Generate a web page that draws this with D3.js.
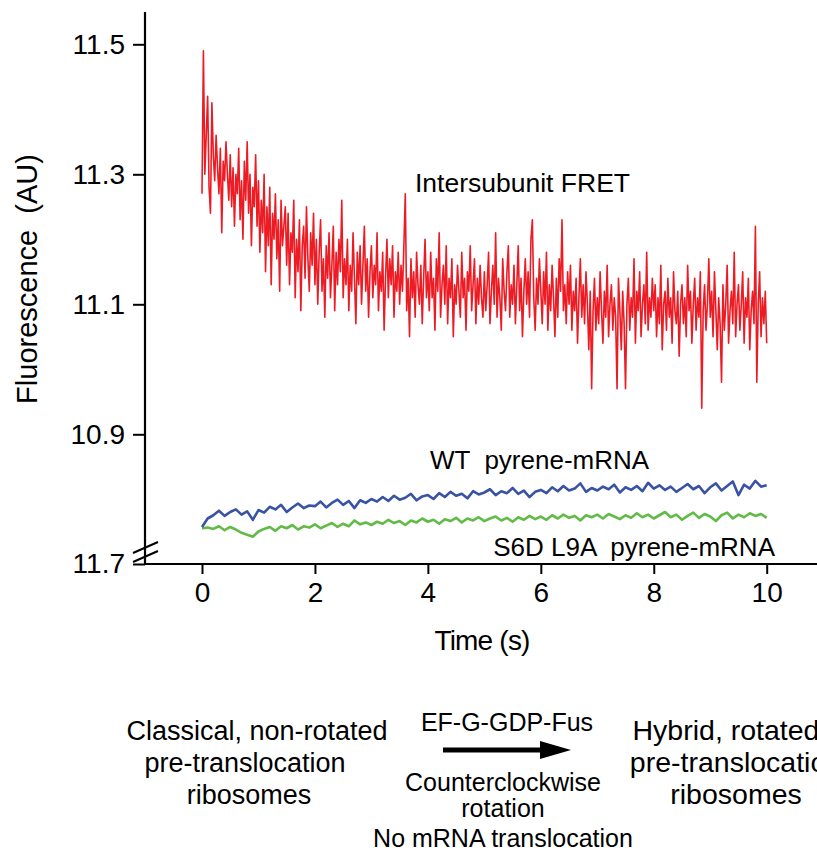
<!DOCTYPE html>
<html><head><meta charset="utf-8">
<script src="https://cdn.jsdelivr.net/npm/d3@7"></script>
<style>body{margin:0;background:#fff} text{font-family:"Liberation Sans",Arial,Helvetica,sans-serif;fill:#000}</style>
</head><body><svg id="c" width="817" height="852"></svg>
<script>
const xTicks=[0,2,4,6,8,10];
const yTicks=[10.9,11.1,11.3,11.5];
const yBreakTick=[11.7];
const redDt=0.025;
const redValues=[
11.27,11.49,11.30,11.36,11.42,11.28,11.24,11.41,11.33,11.29,11.36,11.31,11.27,11.34,11.21,11.32,11.29,11.35,11.30,11.26,
11.33,11.25,11.31,11.22,11.30,11.27,11.34,11.23,11.29,11.20,11.32,11.26,11.35,11.24,11.30,11.19,11.28,11.25,11.33,11.22,
11.29,11.18,11.26,11.21,11.30,11.15,11.25,11.19,11.28,11.13,11.24,11.20,11.27,11.17,11.23,11.12,11.26,11.19,11.22,11.25,
11.16,11.24,11.13,11.21,11.18,11.26,11.11,11.20,11.15,11.23,11.09,11.19,11.22,11.14,11.25,11.17,11.12,11.21,11.16,11.24,
11.13,11.20,11.10,11.18,11.23,11.12,11.17,11.08,11.19,11.14,11.21,11.11,11.16,11.22,11.09,11.18,11.13,11.20,11.15,11.26,
11.11,11.17,11.13,11.20,11.09,11.16,11.12,11.21,11.14,11.07,11.18,11.13,11.19,11.10,11.16,11.22,11.12,11.17,11.08,11.15,
11.19,11.11,11.16,11.13,11.21,11.09,11.15,11.12,11.18,11.06,11.14,11.20,11.11,11.17,11.13,11.19,11.08,11.15,11.12,11.18,
11.10,11.16,11.12,11.19,11.27,11.09,11.14,11.05,11.17,11.11,11.15,11.08,11.18,11.13,11.10,11.16,11.07,11.14,11.20,11.11,
11.15,11.09,11.18,11.11,11.14,11.06,11.17,11.12,11.21,11.08,11.13,11.16,11.10,11.19,11.07,11.14,11.11,11.17,11.05,11.13,
11.10,11.16,11.12,11.08,11.18,11.11,11.14,11.06,11.15,11.12,11.19,11.09,11.13,11.17,11.07,11.14,11.10,11.16,11.11,11.08,
11.15,11.09,11.13,11.18,11.07,11.12,11.16,11.10,11.21,11.08,11.14,11.11,11.06,11.17,11.12,11.09,11.15,11.19,11.08,11.13,
11.10,11.16,11.07,11.13,11.19,11.09,11.14,11.05,11.12,11.17,11.10,11.15,11.08,11.20,11.23,11.11,11.06,11.14,11.10,11.17,
11.12,11.07,11.15,11.10,11.18,11.06,11.13,11.09,11.16,11.11,11.05,11.14,11.08,11.17,11.12,11.23,11.09,11.13,11.07,11.15,
11.10,11.16,11.06,11.12,11.09,11.14,11.04,11.11,11.17,11.08,11.13,11.07,11.15,11.10,11.03,11.12,10.97,11.09,11.14,11.06,
11.11,11.07,11.15,11.09,11.04,11.12,11.08,11.16,11.05,11.10,11.13,11.06,11.11,11.08,10.97,11.14,11.09,11.03,11.12,11.07,
10.97,11.10,11.14,11.06,11.11,11.08,11.17,11.04,11.12,11.09,11.15,11.05,11.10,11.13,11.07,11.18,11.06,11.11,11.08,11.14,
11.09,11.13,11.05,11.11,11.07,11.16,11.03,11.10,11.12,11.06,11.14,11.08,11.11,11.04,11.15,11.09,11.07,11.12,11.02,11.10,
11.13,11.07,11.11,11.05,11.16,11.09,11.12,11.04,11.10,11.14,11.06,11.11,11.08,11.15,10.94,11.09,11.13,11.06,11.10,11.17,
11.08,11.12,11.05,11.15,11.09,11.03,11.11,11.07,10.98,11.13,11.06,11.10,11.16,11.04,11.09,11.12,11.07,11.18,11.05,11.10,
11.13,11.06,11.10,11.15,11.04,11.11,11.08,11.14,11.03,11.09,11.12,11.07,11.22,10.98,11.10,11.15,11.05,11.11,11.07,11.12,
11.04];
const pyreneDt=0.1;
const wtValues=[
11.757,11.770,11.775,11.782,11.774,11.780,11.784,11.776,11.781,11.768,
11.783,11.779,11.788,11.784,11.791,11.780,11.787,11.793,11.786,11.790,
11.789,11.796,11.787,11.794,11.799,11.791,11.797,11.786,11.798,11.794,
11.800,11.796,11.803,11.797,11.805,11.799,11.802,11.808,11.798,11.804,
11.806,11.800,11.809,11.803,11.811,11.805,11.808,11.801,11.812,11.807,
11.810,11.815,11.806,11.812,11.809,11.817,11.808,11.813,11.803,11.811,
11.814,11.809,11.818,11.812,11.820,11.813,11.816,11.824,11.811,11.817,
11.813,11.819,11.815,11.822,11.810,11.818,11.814,11.820,11.812,11.825,
11.816,11.821,11.814,11.819,11.811,11.817,11.823,11.815,11.820,11.809,
11.818,11.824,11.813,11.820,11.827,11.806,11.822,11.816,11.828,11.819,
11.821];
const s6dValues=[
11.755,11.756,11.754,11.758,11.752,11.757,11.753,11.748,11.745,11.742,
11.750,11.754,11.757,11.751,11.758,11.755,11.760,11.753,11.758,11.756,
11.761,11.755,11.759,11.763,11.757,11.762,11.758,11.767,11.761,11.764,
11.760,11.765,11.762,11.768,11.763,11.766,11.760,11.767,11.764,11.770,
11.765,11.768,11.762,11.769,11.766,11.771,11.764,11.770,11.767,11.772,
11.766,11.770,11.773,11.767,11.771,11.765,11.772,11.768,11.774,11.769,
11.773,11.768,11.775,11.770,11.776,11.771,11.774,11.767,11.775,11.772,
11.776,11.770,11.777,11.773,11.769,11.775,11.771,11.778,11.772,11.776,
11.770,11.775,11.780,11.772,11.776,11.768,11.774,11.779,11.771,11.777,
11.773,11.766,11.775,11.779,11.770,11.776,11.772,11.778,11.774,11.777,
11.771];
const seriesLabels=["Intersubunit FRET","WT  pyrene-mRNA","S6D L9A  pyrene-mRNA"];
const leftState=["Classical, non-rotated","pre-translocation","ribosomes"];
const rightState=["Hybrid, rotated","pre-translocation","ribosomes"];
const arrowTop=["EF-G-GDP-Fus"];
const arrowBottom=["Counterclockwise","rotation","No mRNA translocation"];

const svg=d3.select("#c");
const x=d3.scaleLinear().domain([0,10]).range([202,766.7]);
const yUp=d3.scaleLinear().domain([10.9,11.5]).range([434.3,44.3]);
const yLow=d3.scaleLinear().domain([11.7,11.9]).range([564,434]);
const axisY=564, axisX=145;
const FF='"Liberation Sans",Arial,sans-serif';

// series
const redLine=d3.line().x((d,i)=>x(i*redDt)).y(d=>yUp(d));
svg.append("path").attr("d",redLine(redValues)).attr("fill","none").attr("stroke","#ed1c24").attr("stroke-width",1.6).attr("stroke-linejoin","round");
const lowLine=d3.line().x((d,i)=>x(i*pyreneDt)).y(d=>yLow(d));
svg.append("path").attr("d",lowLine(s6dValues)).attr("fill","none").attr("stroke","#62bb46").attr("stroke-width",2.6).attr("stroke-linejoin","round");
svg.append("path").attr("d",lowLine(wtValues)).attr("fill","none").attr("stroke","#3953a4").attr("stroke-width",2.6).attr("stroke-linejoin","round");

// axes
const fs=28;
function styleAxis(g){
  g.select(".domain").remove();
  g.selectAll("line").attr("stroke","#000").attr("stroke-width",2);
  g.selectAll("text").attr("font-size",fs).style("font-family",FF);
}
styleAxis(svg.append("g").attr("transform",`translate(0,${axisY})`)
  .call(d3.axisBottom(x).tickValues(xTicks).tickSize(10).tickPadding(8).tickFormat(d3.format("d"))));
styleAxis(svg.append("g").attr("transform",`translate(${axisX},0)`)
  .call(d3.axisLeft(yUp).tickValues(yTicks).tickSize(12).tickPadding(8).tickFormat(d3.format(".1f"))));
styleAxis(svg.append("g").attr("transform",`translate(${axisX},0)`)
  .call(d3.axisLeft(yLow).tickValues(yBreakTick).tickSize(12).tickPadding(8).tickFormat(d3.format(".1f"))));

svg.append("line").attr("x1",axisX).attr("x2",817).attr("y1",axisY).attr("y2",axisY).attr("stroke","#000").attr("stroke-width",2.2);
svg.append("line").attr("x1",axisX).attr("x2",axisX).attr("y1",12).attr("y2",axisY+1).attr("stroke","#000").attr("stroke-width",2.2);
// break marks
[0,9].forEach(o=>{
  svg.append("line").attr("x1",133).attr("y1",553+o).attr("x2",158).attr("y2",542+o).attr("stroke","#000").attr("stroke-width",2);
});

// axis titles
svg.append("text").attr("x",482).attr("y",650).attr("text-anchor","middle").attr("font-size",28).attr("letter-spacing","-0.8").text("Time (s)");
svg.append("text").attr("transform","translate(37,279) rotate(-90)").attr("text-anchor","middle").attr("font-size",29).style("white-space","pre").text("Fluorescence  (AU)");

// series labels
svg.append("text").attr("x",415).attr("y",192).attr("font-size",26.5).text(seriesLabels[0]);
svg.append("text").attr("x",430).attr("y",469).attr("font-size",26).style("white-space","pre").text(seriesLabels[1]);
svg.append("text").attr("x",775).attr("y",556).attr("text-anchor","end").attr("font-size",26).style("white-space","pre").text(seriesLabels[2]);

// scheme
const lc=[257,245,249], rc=[726,736,736], sb=[740,772,804];
leftState.forEach((t,i)=>svg.append("text").attr("x",lc[i]).attr("y",sb[i]).attr("text-anchor","middle").attr("font-size",27).text(t));
rightState.forEach((t,i)=>svg.append("text").attr("x",rc[i]).attr("y",sb[i]).attr("text-anchor","middle").attr("font-size",28.5).text(t));
svg.append("text").attr("x",507).attr("y",731).attr("text-anchor","middle").attr("font-size",25).text(arrowTop[0]);
const mb=[791,817,847];
arrowBottom.forEach((t,i)=>svg.append("text").attr("x",503).attr("y",mb[i]).attr("text-anchor","middle").attr("font-size",25).text(t));
svg.append("line").attr("x1",443).attr("x2",548).attr("y1",750).attr("y2",750).attr("stroke","#000").attr("stroke-width",5);
svg.append("path").attr("d","M540,741 L571,750 L540,759 Z").attr("fill","#000");
</script></body></html>
